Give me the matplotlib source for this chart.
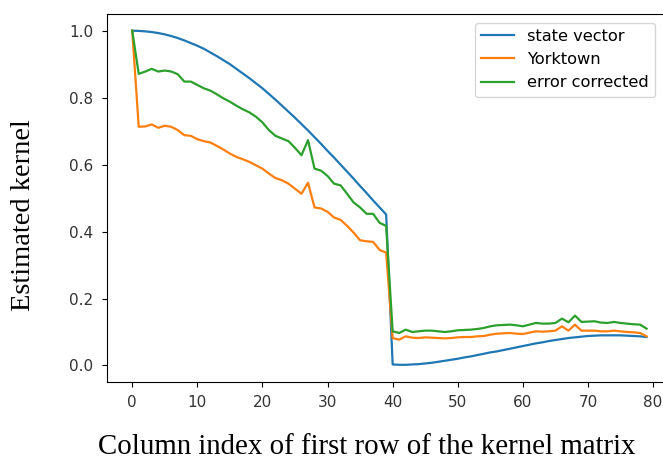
import matplotlib
matplotlib.use("Agg")
import matplotlib.pyplot as plt

columns = list(range(80))

stateVector = [
    1.000, 0.9995, 0.998, 0.996, 0.993, 0.989, 0.984, 0.978, 0.971, 0.963,
    0.955, 0.946, 0.935, 0.924, 0.912, 0.900, 0.886, 0.872, 0.858, 0.843,
    0.828, 0.811, 0.794, 0.776, 0.758, 0.740, 0.721, 0.702, 0.682, 0.662,
    0.641, 0.621, 0.600, 0.579, 0.558, 0.536, 0.515, 0.493, 0.472, 0.451,
    0.003, 0.002, 0.002, 0.003, 0.004, 0.006, 0.008, 0.011, 0.014, 0.017,
    0.020, 0.024, 0.027, 0.031, 0.035, 0.039, 0.042, 0.046, 0.050, 0.054,
    0.058, 0.062, 0.066, 0.069, 0.073, 0.076, 0.079, 0.082, 0.084, 0.086,
    0.088, 0.089, 0.090, 0.090, 0.090, 0.090, 0.089, 0.088, 0.087, 0.085,
]

yorktown = [
    1.000, 0.713, 0.714, 0.720, 0.710, 0.716, 0.713, 0.703, 0.688, 0.686,
    0.676, 0.670, 0.666, 0.656, 0.645, 0.633, 0.623, 0.616, 0.608, 0.598,
    0.588, 0.573, 0.560, 0.553, 0.543, 0.528, 0.513, 0.546, 0.472, 0.469,
    0.459, 0.442, 0.435, 0.417, 0.397, 0.374, 0.371, 0.369, 0.345, 0.337,
    0.082, 0.077, 0.087, 0.083, 0.082, 0.084, 0.083, 0.082, 0.081, 0.082,
    0.084, 0.085, 0.085, 0.087, 0.088, 0.092, 0.095, 0.096, 0.097, 0.095,
    0.094, 0.098, 0.102, 0.101, 0.102, 0.104, 0.117, 0.104, 0.122, 0.104,
    0.104, 0.104, 0.102, 0.102, 0.104, 0.102, 0.100, 0.099, 0.097, 0.087,
]

errorCorrected = [
    1.000, 0.871, 0.878, 0.886, 0.878, 0.881, 0.878, 0.870, 0.848, 0.848,
    0.838, 0.828, 0.821, 0.810, 0.798, 0.788, 0.776, 0.765, 0.756, 0.743,
    0.726, 0.703, 0.686, 0.678, 0.670, 0.650, 0.628, 0.673, 0.588, 0.582,
    0.566, 0.543, 0.538, 0.513, 0.487, 0.472, 0.453, 0.453, 0.426, 0.417,
    0.102, 0.097, 0.107, 0.100, 0.102, 0.104, 0.104, 0.102, 0.100, 0.102,
    0.105, 0.106, 0.107, 0.109, 0.112, 0.117, 0.120, 0.121, 0.122, 0.120,
    0.117, 0.122, 0.127, 0.125, 0.125, 0.127, 0.140, 0.129, 0.149, 0.130,
    0.131, 0.132, 0.128, 0.127, 0.130, 0.127, 0.125, 0.123, 0.122, 0.110,
]

labels = ['state vector', 'Yorktown', 'error corrected']
colors = ['#1f77b4', '#ff7f0e', '#2ca02c']

W, H = 663, 462
fig = plt.figure(figsize=(W / 100, H / 100), dpi=100)
# right spine of the original falls outside the picture
ax = fig.add_axes([106.5 / W, 1 - 381.5 / H, (672.3 - 106.5) / W, (381.5 - 14) / H])

for series, label, color in zip([stateVector, yorktown, errorCorrected], labels, colors):
    ax.plot(columns, series, label=label, color=color, linewidth=1.6)

ax.set_xticks([0, 10, 20, 30, 40, 50, 60, 70, 80])
ax.set_yticks([0.0, 0.2, 0.4, 0.6, 0.8, 1.0])
ax.tick_params(axis='both', labelsize=11, labelcolor='#333333')
ax.tick_params(axis='y', pad=6)
ax.tick_params(axis='x', pad=6)

ax.legend(loc='upper right', bbox_to_anchor=(655 / W, 1 - 22.5 / H),
          bbox_transform=fig.transFigure, borderaxespad=0, fontsize=11.7)

serif = ['Liberation Serif', 'DejaVu Serif']
fig.text(367 / W, 1.5 / H, 'Column index of first row of the kernel matrix',
         ha='center', va='bottom', fontsize=20.8, family=serif)
fig.text(24 / W, 1 - 215 / H, 'Estimated kernel', rotation=90,
         ha='center', va='center', fontsize=20.5, family=serif)

fig.savefig('out.png', dpi=100)
